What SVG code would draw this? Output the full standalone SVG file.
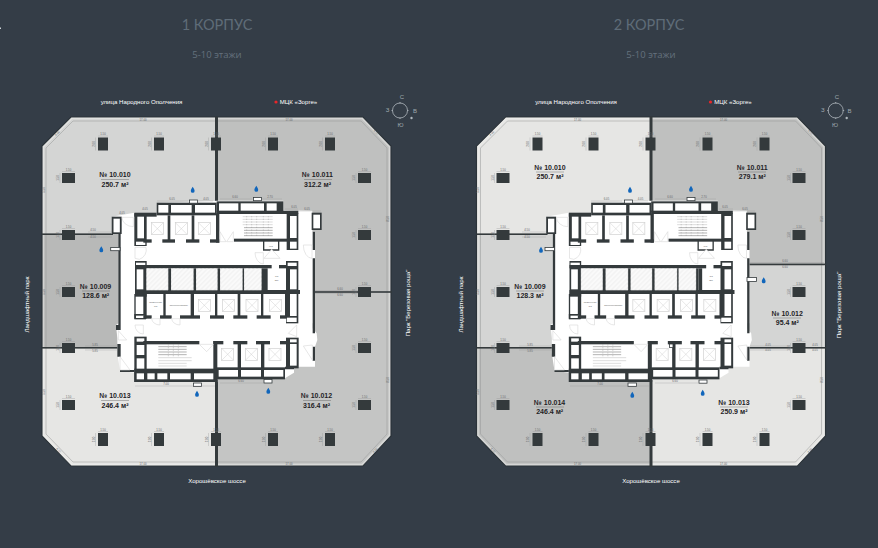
<svg xmlns="http://www.w3.org/2000/svg" width="878" height="548" viewBox="0 0 878 548">
<style>
.h{font-family:"Lato","Open Sans",sans-serif;fill:#5f6c78;text-anchor:middle}
.h2{font-family:"Open Sans","Lato",sans-serif;fill:#64717d;text-anchor:middle;font-size:9.500px}
.s{font-size:6.100px;fill:#fff;text-anchor:middle;font-family:"Liberation Sans",Arial,sans-serif}
.u{font-size:7px;font-weight:700;fill:#1f2326;text-anchor:middle;font-family:"Liberation Sans",Arial,sans-serif}
.d{font-size:2.800px;fill:#66696b;text-anchor:middle;font-family:"Liberation Sans",Arial,sans-serif}
.w{fill:#343a3c}
.c{fill:#fff}
.dl{stroke:#8e9090;stroke-width:.3;fill:none}
.door{fill:#fff;stroke:#d6d6d6;stroke-width:1.800}
.lift{fill:#fff;stroke:#d0d0d0;stroke-width:2}
.g{fill:#9fa8ae;font-size:6px;text-anchor:middle;font-family:"Liberation Sans",Arial,sans-serif}
</style>
<defs>
<clipPath id="octo"><polygon points="42,146 71,117 363,117 391,146 391,436 363,466 71,466 42,436"/></clipPath>
<pattern id="hatch" width="10" height="10" patternUnits="userSpaceOnUse" patternTransform="rotate(-45)"><rect width="10" height="10" fill="#fafafa"/><line x1="0" y1="5" x2="10" y2="5" stroke="#e6e6e6" stroke-width="1.500"/></pattern>
<path id="drop" d="M0-3.200C1.100-1.400 1.900-.4 1.900.9A1.900 1.900 0 0 1-1.900.9C-1.900-.4-1.100-1.400 0-3.200Z" fill="#1166bb"/>
<g id="cv"><rect x="-5" y="-6.500" width="10" height="13" class="w"/><path class="dl" d="M-5-8H5M-7.500-6.500V6.500"/><text class="d" y="-8.600">1.50</text><text class="d" transform="translate(-8.400 0) rotate(-90)">2.00</text></g>
<g id="ch"><rect x="-6.500" y="-5" width="13" height="10" class="w"/><path class="dl" d="M-6.500-6.500H6.500M-8.500-5V5"/><text class="d" y="-7">1.50</text><text class="d" transform="translate(-9.200 0) rotate(-90)">1.50</text></g>
<g id="frame">
<polygon points="42,146 71,117 363,117 391,146 391,436 363,466 71,466 42,436" fill="none" stroke="#2b3339" stroke-width="1.200"/>
<polygon points="43.500,146.700 71.700,118.500 362.300,118.500 389.500,146.700 389.500,435.300 362.300,464.500 71.700,464.500 43.500,435.300" fill="none" stroke="#f1f1f0" stroke-width="1.500" opacity=".45"/>
<polygon points="46,148 73,121 361,121 387,148 387,434 361,462 73,462 46,434" fill="none" stroke="#959797" stroke-width=".5"/>
<g class="d"><text x="143" y="120.500">17.00</text><text x="289" y="120.500">17.00</text><text x="143" y="464.800">17.00</text><text x="289" y="464.800">17.00</text>
<text transform="translate(44.800 190) rotate(-90)">5.50</text><text transform="translate(44.800 292) rotate(-90)">5.50</text><text transform="translate(44.800 392) rotate(-90)">5.50</text>
<text transform="translate(388.500 219) rotate(-90)">8.50</text><text transform="translate(388.500 380) rotate(-90)">8.50</text>
<text transform="translate(58 134) rotate(-45)">4.00</text><text transform="translate(375.500 133) rotate(45)">4.00</text><text transform="translate(58 451) rotate(45)">4.00</text><text transform="translate(376 451) rotate(-45)">4.00</text></g>
</g>
<g id="cols">
<use href="#cv" x="103" y="144"/><use href="#cv" x="159" y="144"/><use href="#cv" x="216" y="144"/><use href="#cv" x="273" y="144"/><use href="#cv" x="330" y="144"/>
<use href="#cv" x="103" y="439.500"/><use href="#cv" x="159" y="439.500"/><use href="#cv" x="216" y="439.500"/><use href="#cv" x="273" y="439.500"/><use href="#cv" x="330" y="439.500"/>
<use href="#ch" x="68.500" y="178"/><use href="#ch" x="68.500" y="235"/><use href="#ch" x="68.500" y="292"/><use href="#ch" x="68.500" y="348"/><use href="#ch" x="68.500" y="405"/>
<use href="#ch" x="364.500" y="178"/><use href="#ch" x="364.500" y="235"/><use href="#ch" x="364.500" y="292"/><use href="#ch" x="364.500" y="348"/><use href="#ch" x="364.500" y="405"/>
</g>
<g id="xlift"><rect width="36" height="36" class="lift"/><path d="M0 0L36 36M36 0L0 36" stroke="#d0d0d0" stroke-width="1.500"/></g>
<g id="core" transform="translate(100 190) scale(.33333)">
<path class="c" d="M170 38L350 32H550V60L637 62V125L645 125V400H638V415L650 430L652 450L645 470V530L582 530V548L552 566H352V576H103V548L60 542L52 490L52 445L48 405L55 400V132L35 132V80L103 68H170Z"/>
<path class="w" d="M55 132H62V405H55ZM48 405H62V420H48ZM52 462H62V500H52ZM60 540H103V546H60ZM638 125H645V180H638ZM638 205H645V430H638ZM638 470H645V512H638ZM555 530H582V538H555Z"/>
<rect x="35" y="80" width="30" height="52" class="w"/><rect x="40.500" y="86" width="19" height="41" class="c"/>
<rect x="635" y="68" width="30" height="52" class="w"/><rect x="640" y="74" width="20" height="41" class="c"/>
<rect x="170" y="38" width="180" height="38" class="w"/><rect x="350" y="34" width="200" height="34" class="w"/>
<rect x="103" y="68" width="67" height="12" class="w"/><rect x="350" y="62" width="245" height="10" class="w"/>
<rect x="175" y="45" width="30" height="23" class="c"/><rect x="213" y="45" width="62" height="23" class="c"/><rect x="285" y="45" width="60" height="23" class="c"/>
<rect x="357" y="40" width="58" height="22" class="c"/><rect x="422" y="40" width="70" height="22" class="c"/><rect x="500" y="40" width="30" height="22" class="c"/>
<rect x="103" y="70" width="37" height="98" class="w"/><rect x="112" y="80" width="20" height="65" class="c"/><rect x="108" y="155" width="28" height="10" class="c"/>
<rect x="203" y="76" width="8" height="78" class="w"/><rect x="275" y="76" width="8" height="78" class="w"/><rect x="348" y="70" width="10" height="88" class="w"/>
<rect x="130" y="148" width="25" height="10" class="w"/><rect x="187" y="148" width="38" height="10" class="w"/><rect x="258" y="148" width="40" height="10" class="w"/><rect x="330" y="148" width="28" height="10" class="w"/>
<use href="#xlift" transform="translate(154 98)"/><use href="#xlift" transform="translate(226 98)"/><use href="#xlift" transform="translate(295 98)"/>
<rect x="402" y="146" width="190" height="9" class="w"/>
<rect x="560" y="70" width="35" height="110" class="w"/><rect x="570" y="78" width="20" height="66" class="c"/><rect x="570" y="155" width="20" height="21" class="c"/>
<path d="M491 152V180H536V152" fill="none" stroke="#343a3c" stroke-width="4"/><rect x="496" y="157" width="36" height="20" class="c"/>
<path d="M428 80H518M428 88H518M428 96H518M428 104H518" stroke="#c6c6c6" stroke-width="1.800"/><path d="M432 113H518M432 121H518M432 129H518M432 137H518" stroke="#666" stroke-width="1.500"/><path d="M440 78V142M455 78V142M470 78V142M490 78V142M505 78V142" stroke="#888" stroke-width="1" stroke-dasharray="4 4"/>
<rect x="105" y="213" width="35" height="107" class="w"/><rect x="108" y="218" width="28" height="10" class="c"/><rect x="110" y="238" width="20" height="60" class="c"/>
<rect x="105" y="225" width="410" height="10" class="w"/><rect x="537" y="225" width="25" height="10" class="w"/>
<rect x="105" y="300" width="495" height="12" class="w"/>
<rect x="492" y="235" width="11" height="70" class="w"/>
<rect x="558" y="213" width="37" height="187" class="w"/><rect x="563" y="218" width="27" height="10" class="c"/><rect x="570" y="238" width="20" height="60" class="c"/><rect x="570" y="312" width="20" height="66" class="c"/><rect x="560" y="383" width="30" height="13" class="c"/>
<g fill="url(#hatch)" stroke="#343a3c" stroke-width=".8" stroke-dasharray="2 2"><rect x="139" y="235" width="66" height="66"/><rect x="213" y="235" width="68" height="66"/><rect x="288" y="235" width="65" height="66"/><rect x="360" y="235" width="68" height="66"/><rect x="432" y="235" width="53" height="66"/></g>
<rect x="205" y="235" width="8" height="68" class="w"/><rect x="281" y="235" width="7" height="68" class="w"/><rect x="353" y="235" width="7" height="68" class="w"/><rect x="428" y="235" width="4" height="68" class="w"/><rect x="485" y="235" width="7" height="68" class="w"/>
<rect x="103" y="312" width="4" height="74" class="w"/><rect x="130" y="312" width="10" height="74" class="w"/><rect x="103" y="372" width="35" height="16" class="w"/><rect x="108" y="377" width="25" height="7" class="c"/>
<rect x="190" y="312" width="7" height="72" class="w"/><rect x="272" y="312" width="10" height="72" class="w"/><rect x="345" y="312" width="7" height="72" class="w"/><rect x="413" y="312" width="8" height="72" class="w"/><rect x="483" y="312" width="7" height="72" class="w"/><rect x="555" y="312" width="5" height="72" class="w"/>
<g class="w"><rect x="130" y="376" width="25" height="10"/><rect x="180" y="376" width="35" height="10"/><rect x="240" y="376" width="60" height="10"/><rect x="330" y="376" width="42" height="10"/><rect x="400" y="376" width="42" height="10"/><rect x="470" y="376" width="42" height="10"/><rect x="540" y="376" width="20" height="10"/></g>
<use href="#xlift" transform="translate(295 328)"/><use href="#xlift" transform="translate(368 328)"/><use href="#xlift" transform="translate(438 328)"/><use href="#xlift" transform="translate(508 328)"/>
<rect x="103" y="440" width="37" height="136" class="w"/><rect x="110" y="445" width="23" height="10" class="c"/><rect x="110" y="465" width="23" height="30" class="c"/><rect x="110" y="505" width="23" height="33" class="c"/>
<g class="w"><rect x="130" y="453" width="168" height="10"/><rect x="340" y="453" width="30" height="10"/><rect x="400" y="453" width="42" height="10"/><rect x="468" y="453" width="42" height="10"/><rect x="540" y="453" width="20" height="10"/>
<rect x="340" y="453" width="12" height="90"/><rect x="413" y="453" width="10" height="85"/><rect x="483" y="453" width="10" height="85"/></g>
<rect x="558" y="443" width="38" height="92" class="w"/><rect x="570" y="448" width="20" height="9" class="c"/><rect x="570" y="462" width="20" height="65" class="c"/>
<use href="#xlift" transform="translate(365 475)"/><use href="#xlift" transform="translate(436 475)"/><use href="#xlift" transform="translate(507 475)"/>
<path d="M175 470H260M175 478H260M175 486H260M175 494H260" stroke="#666" stroke-width="1.500"/><path d="M175 503H275M175 512H275M175 520H260M175 528H260" stroke="#c6c6c6" stroke-width="1.800"/><path d="M205 463V500M220 463V500M235 463V500" stroke="#888" stroke-width="1" stroke-dasharray="4 4"/>
<rect x="103" y="536" width="250" height="40" class="w"/><rect x="350" y="532" width="205" height="36" class="w"/>
<g class="c"><rect x="110" y="550" width="22" height="18"/><rect x="142" y="550" width="22" height="18"/><rect x="172" y="550" width="30" height="18"/><rect x="210" y="550" width="62" height="18"/><rect x="282" y="550" width="58" height="18"/><rect x="356" y="540" width="58" height="20"/><rect x="423" y="540" width="60" height="20"/><rect x="492" y="540" width="58" height="20"/></g>
<g class="door"><path d="M66 82H100V110A34 28 0 0 1 66 82Z"/><path d="M105 172L138 172A30 30 0 0 1 118 208L105 205Z"/><path d="M360 125L378 155H360ZM400 125L380 155H400Z"/><path d="M465 188H490V222A26 34 0 0 1 465 188Z"/><path d="M492 205L515 178L540 205Z"/><path d="M610 165H636V205A26 40 0 0 1 610 165Z"/><path d="M155 386H180V405A25 20 0 0 1 155 386Z"/><path d="M215 386H240V405A25 20 0 0 1 215 386Z"/><path d="M105 405H130V432A25 27 0 0 1 105 405Z"/><path d="M55 422L80 450H55Z"/><path d="M298 463H340L320 485Z"/><path d="M60 500L90 540H60Z"/><path d="M565 430L590 405V440Z"/><path d="M610 468L637 465V510Z"/></g>
<g font-family="Liberation Sans,Arial,sans-serif" font-size="7" text-anchor="middle" fill="#666"><text x="167" y="340">Помещение</text><text x="167" y="350">СС</text><text x="236" y="347">Электрощитовая</text><text x="513" y="170">WC</text><text x="530" y="262">СС</text><text x="530" y="272">ЩУ</text></g>
</g>
</defs>

<rect width="878" height="548" fill="#343d47"/>
<rect x="0" y="27.500" width="1" height="1.500" fill="#cdd3d8"/>

<g id="titles">
<text class="h" x="217" y="30" font-size="14.500">1 КОРПУС</text><text class="h2" x="217" y="58">5-10 этажи</text>
<text class="h" x="649" y="30" font-size="14.500">2 КОРПУС</text><text class="h2" x="651" y="58">5-10 этажи</text>
</g>

<g id="building-1">
<g clip-path="url(#octo)">
<rect id="u1-10010" x="42" y="117" width="175" height="117" fill="#d4d5d4"/>
<rect id="u1-10011" x="216" y="117" width="176" height="175" fill="#bfc0bf"/>
<rect id="u1-10009" x="42" y="234" width="90" height="114" fill="#b8b9b8"/>
<rect id="u1-10013" x="42" y="348" width="175" height="120" fill="#e6e6e4"/>
<rect id="u1-10012" x="216" y="292" width="176" height="176" fill="#c4c5c4"/>
</g>
<use href="#frame"/>
<g class="w"><rect x="215" y="116.500" width="3" height="88"/><rect x="215" y="380" width="3" height="87"/><rect x="42" y="233.400" width="71" height="1.600"/><rect x="42" y="347" width="78" height="1.600"/><rect x="314" y="291.200" width="78" height="1.600"/></g>
<use href="#cols"/>
<use href="#core"/>
<g fill="#fff" stroke="#343a3c" stroke-width=".8"><rect x="189.500" y="200" width="8" height="3.200"/><rect x="253.500" y="197.500" width="8" height="3.200"/><rect x="110.700" y="247.500" width="9.300" height="3.200"/><rect x="193.500" y="383" width="8" height="3.500"/><rect x="264" y="379.500" width="8" height="3.500"/></g>
<use href="#drop" x="192.700" y="190"/><use href="#drop" x="256.300" y="189"/><use href="#drop" x="101.300" y="249.500"/><use href="#drop" x="197" y="394"/><use href="#drop" x="268.300" y="391"/>
<g class="d"><text x="172" y="199.800">6.05</text><text x="206" y="199.800">4.05</text><text x="235" y="198">6.60</text><text x="270" y="198">2.70</text><text x="145" y="209.800">4.05</text><text x="122" y="213.500">4.05</text><text x="294" y="208">6.05</text><text x="307" y="210">6.05</text><text x="93" y="231">4.50</text><text x="93" y="237.800">4.50</text><text x="95" y="345.500">5.85</text><text x="95" y="351.500">5.85</text><text x="166" y="385">7.00</text><text x="241" y="381.500">6.60</text><text x="340" y="289.800">6.60</text><text x="340" y="295.500">6.60</text></g>
<path class="dl" d="M157 201H188M198 201H213M220 199H252M262 199H282M285 209H298M298 211H321M88 232H112M88 237H112M85 346H118M85 350H118M135 386H215M220 383H263M315 290.500H358M315 293.500H358"/>
<g id="l1-10010"><text class="u" x="115" y="177">№ 10.010</text><path d="M101 179.500H129" stroke="#555" stroke-width=".4"/><text class="u" x="115" y="187">250.7 м²</text></g>
<g id="l1-10011"><text class="u" x="317.500" y="177">№ 10.011</text><path d="M304 179.500H332" stroke="#555" stroke-width=".4"/><text class="u" x="317.500" y="187">312.2 м²</text></g>
<g id="l1-10009"><text class="u" x="95.700" y="288.700">№ 10.009</text><path d="M82 291H110" stroke="#555" stroke-width=".4"/><text class="u" x="95.700" y="298.200">128.6 м²</text></g>
<g id="l1-10013"><text class="u" x="115" y="398">№ 10.013</text><path d="M101 400.500H129" stroke="#555" stroke-width=".4"/><text class="u" x="115" y="407.500">246.4 м²</text></g>
<g id="l1-10012"><text class="u" x="316.500" y="398">№ 10.012</text><path d="M303 400.500H331" stroke="#555" stroke-width=".4"/><text class="u" x="316.500" y="407.500">316.4 м²</text></g>
</g>

<g id="building-2">
<g clip-path="url(#octo)" transform="translate(434.500 0)">
<rect id="u2-10010" x="42" y="117" width="175" height="117" fill="#e6e6e4"/>
<rect id="u2-10011" x="216" y="117" width="176" height="148" fill="#bfc0bf"/>
<rect id="u2-10009" x="42" y="234" width="90" height="114" fill="#d4d5d4"/>
<rect id="u2-10012" x="216" y="264" width="176" height="84" fill="#d4d5d4"/>
<rect id="u2-10014" x="42" y="348" width="175" height="120" fill="#bfc0bf"/>
<rect id="u2-10013" x="216" y="348" width="176" height="120" fill="#e6e6e4"/>
</g>
<use href="#frame" transform="translate(434.500 0)"/>
<g class="w"><rect x="649.500" y="116.500" width="3" height="88"/><rect x="649.500" y="380" width="3" height="87"/><rect x="476.500" y="233.400" width="71" height="1.600"/><rect x="476.500" y="347" width="78" height="1.600"/><rect x="748" y="263.600" width="78" height="1.600"/><rect x="748" y="347" width="78" height="1.600"/></g>
<use href="#cols" transform="translate(434.500 0)"/>
<use href="#core" transform="translate(434.500 0)"/>
<g fill="#fff" stroke="#343a3c" stroke-width=".8"><rect x="624.500" y="200" width="8" height="3.200"/><rect x="687" y="197.500" width="8" height="3.200"/><rect x="545" y="247.500" width="9.500" height="3.200"/><rect x="747" y="277.500" width="9.500" height="4"/><rect x="628" y="383" width="8.500" height="3.500"/><rect x="699" y="380" width="8" height="3.200"/><rect x="669.500" y="344" width="3.500" height="3.500"/></g>
<use href="#drop" x="630" y="190"/><use href="#drop" x="691" y="189"/><use href="#drop" x="541" y="250"/><use href="#drop" x="763.700" y="280.500"/><use href="#drop" x="632.300" y="395"/><use href="#drop" x="702.700" y="393"/>
<g class="d"><text x="606.500" y="199.800">6.05</text><text x="640.500" y="199.800">4.05</text><text x="670" y="198">6.60</text><text x="704" y="198">2.70</text><text x="725" y="208">6.05</text><text x="745" y="210">6.05</text><text x="527" y="231">4.50</text><text x="527" y="237.800">4.50</text><text x="530" y="345.500">5.85</text><text x="530" y="351.500">5.85</text><text x="600" y="385">7.00</text><text x="675" y="381.500">6.60</text><text x="785" y="262">6.60</text><text x="785" y="267.500">6.60</text><text x="768" y="345.500">4.05</text><text x="768" y="351">4.05</text><text x="815" y="345.500">4.05</text><text x="815" y="351">4.05</text></g>
<path class="dl" d="M591 201H622M633 201H648M655 199H686M696 199H716M719 209H733M733 211H755M522 232H546M522 237H546M519 346H552M519 350H552M570 386H649M655 383H698M750 262.500H824M750 265.500H824M750 346H790M750 350H790"/>
<g id="l2-10010"><text class="u" x="550" y="169.500">№ 10.010</text><path d="M536 172H564" stroke="#555" stroke-width=".4"/><text class="u" x="550" y="179">250.7 м²</text></g>
<g id="l2-10011"><text class="u" x="752.300" y="169.500">№ 10.011</text><path d="M738 172H766" stroke="#555" stroke-width=".4"/><text class="u" x="752.300" y="179">279.1 м²</text></g>
<g id="l2-10009"><text class="u" x="530" y="288.500">№ 10.009</text><path d="M516 291H544" stroke="#555" stroke-width=".4"/><text class="u" x="530" y="298">128.3 м²</text></g>
<g id="l2-10012"><text class="u" x="787.300" y="315.500">№ 10.012</text><path d="M773 318H801" stroke="#555" stroke-width=".4"/><text class="u" x="787.300" y="325">95.4 м²</text></g>
<g id="l2-10014"><text class="u" x="549.700" y="404.500">№ 10.014</text><path d="M536 407H564" stroke="#555" stroke-width=".4"/><text class="u" x="549.700" y="414">246.4 м²</text></g>
<g id="l2-10013"><text class="u" x="734" y="404.500">№ 10.013</text><path d="M720 407H748" stroke="#555" stroke-width=".4"/><text class="u" x="734" y="414">250.9 м²</text></g>
</g>

<g id="surroundings">
<text class="s" x="141.500" y="104">улица Народного Ополчения</text>
<circle cx="276" cy="102" r="1.600" fill="#e8262a"/><text class="s" x="298.500" y="104">МЦК «Зорге»</text>
<text class="s" x="217" y="483">Хорошёвское шоссе</text>
<text class="s" transform="translate(29 304.500) rotate(-90)">Ландшафтный парк</text>
<text class="s" transform="translate(410 303) rotate(-90)">Парк "Березовая роща"</text>
<text class="s" x="576" y="104">улица Народного Ополчения</text>
<circle cx="710.500" cy="102" r="1.600" fill="#e8262a"/><text class="s" x="733" y="104">МЦК «Зорге»</text>
<text class="s" x="651" y="483">Хорошёвское шоссе</text>
<text class="s" transform="translate(463 304.500) rotate(-90)">Ландшафтный парк</text>
<text class="s" transform="translate(841 305) rotate(-90)">Парк "Березовая роща"</text>
</g>

<g id="compass-1" stroke="#aeb6bc" fill="none"><circle cx="400" cy="110.500" r="7.500" stroke-width=".8"/><path d="M400 102V103.500M400 117.500V119M391.500 110.500H393M407 110.500H408.500" stroke-width=".8"/><g stroke="none"><text class="g" x="402" y="98.500">С</text><text class="g" x="387.500" y="112">З</text><text class="g" x="415" y="112.500">В</text><text class="g" x="400.500" y="127">Ю</text></g><circle cx="411.500" cy="118" r="1.200" fill="#aeb6bc" stroke="none"/></g>
<g id="compass-2" stroke="#aeb6bc" fill="none"><circle cx="835.700" cy="110.500" r="7.500" stroke-width=".8"/><path d="M835.700 102V103.500M835.700 117.500V119M827.200 110.500H828.700M842.700 110.500H844.200" stroke-width=".8"/><g stroke="none"><text class="g" x="837" y="98.500">С</text><text class="g" x="822.700" y="112">З</text><text class="g" x="849.500" y="112.500">В</text><text class="g" x="835" y="127">Ю</text></g><circle cx="846.700" cy="118" r="1.200" fill="#aeb6bc" stroke="none"/></g>
</svg>
